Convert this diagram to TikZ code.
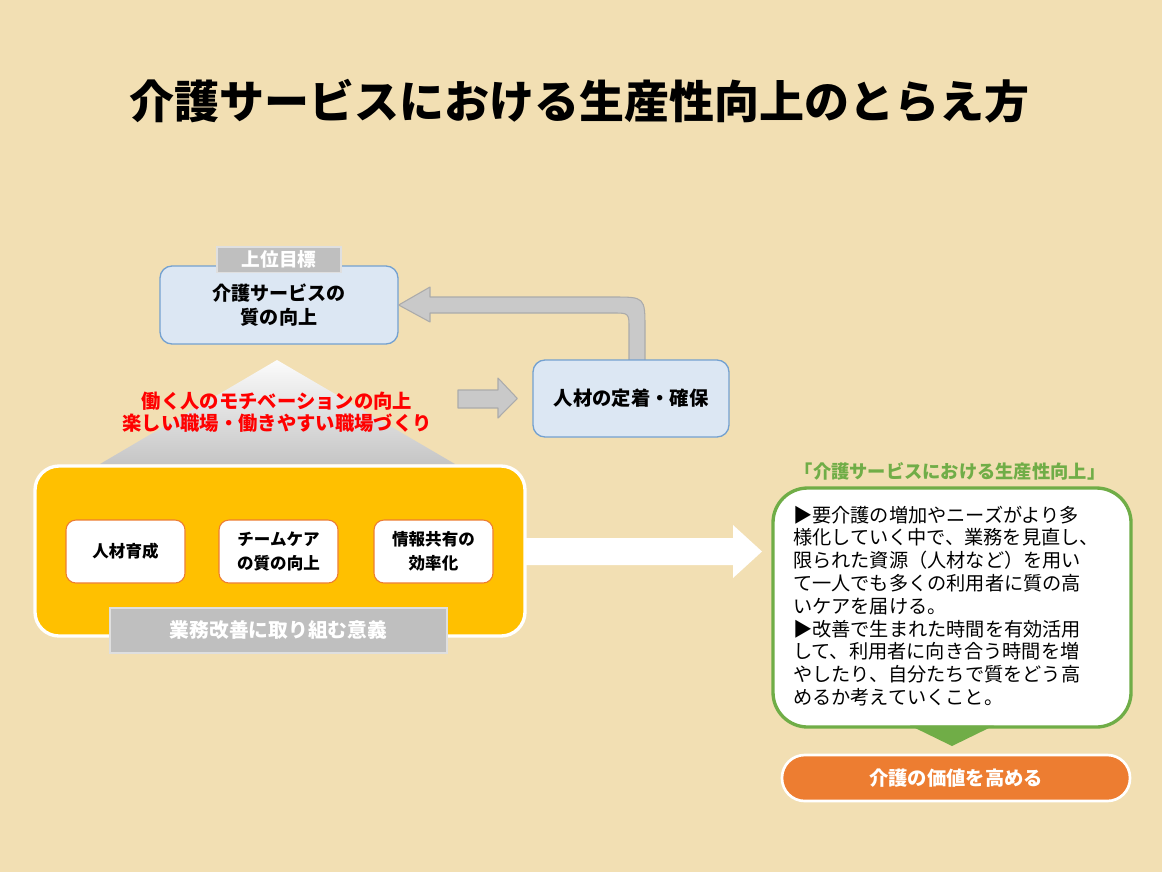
\documentclass[tikz,border=0pt]{standalone}
\usepackage{fontspec}
\setmainfont{Noto Sans CJK JP}
\usetikzlibrary{calc}
\definecolor{bg}{HTML}{F2DFB3}
\definecolor{bluefill}{HTML}{DCE7F3}
\definecolor{bluebd}{HTML}{74A1D0}
\definecolor{arrowfill}{HTML}{C9C9C9}
\definecolor{arrowbd}{HTML}{ABABAB}
\definecolor{grayfill}{HTML}{BFBFBF}
\definecolor{orangeY}{HTML}{FFC000}
\definecolor{orangeD}{HTML}{ED7D31}
\definecolor{greenC}{HTML}{70AD47}
\definecolor{redC}{HTML}{FF0000}
\begin{document}
\begin{tikzpicture}[x=0.75pt,y=-0.75pt,
  bluebox/.style={draw=bluebd, fill=bluefill, line width=1pt, rounded corners=9pt,
    align=center, font=\fontsize{14.3}{18}\selectfont\bfseries},
  graytag/.style={draw=gray!25, fill=grayfill, line width=1pt, text=white,
    font=\fontsize{14}{16}\selectfont\bfseries, inner sep=0pt},
  smallbox/.style={draw=orangeD, fill=white, line width=0.8pt, rounded corners=7.5pt,
    minimum width=89.25pt, minimum height=47.25pt, align=center,
    font=\fontsize{12.4}{18}\selectfont\bfseries},
  blockarrow/.style={draw=arrowbd, fill=arrowfill, line width=0.8pt, line join=round}
]
\fill[bg] (0,0) rectangle (1162,872);
\useasboundingbox (0,0) rectangle (1162,872);

% title
\node[font=\fontsize{33.75}{40}\selectfont\bfseries] (title) at (579,101)
  {介護サービスにおける生産性向上のとらえ方};

% pyramid with motivation text
\shade[top color=gray!3, bottom color=gray!45] (277,360) -- (455,464) -- (100,464) -- cycle;
\node[align=center, text=redC, font=\fontsize{14.5}{16.2}\selectfont\bfseries] (motiv) at (277,412)
  {働く人のモチベーションの向上\\楽しい職場・働きやすい職場づくり};

% upper goal
\node[bluebox, minimum width=178.5pt, minimum height=58.5pt] (goal) at (279,305)
  {介護サービスの\\質の向上};
\node[graytag, minimum width=93pt, minimum height=19pt] (goallbl) at (279,259.5) {上位目標};

% return arrow (staff -> goal)
\draw[blockarrow] (goal.east) -- (430,287) -- (430,297) -- (613,297)
  .. controls (645,297) .. (645,329) -- (645,361) -- (629,361) -- (629,329)
  .. controls (629,313) .. (613,313) -- (430,313) -- (430,322) -- cycle;

% staff box
\node[bluebox, minimum width=147pt, minimum height=57.75pt,
  font=\fontsize{14.5}{18}\selectfont\bfseries] (staff) at (631,398.5) {人材の定着・確保};

% small arrow (motivation -> staff)
\coordinate (tipA) at ($(staff.west)+(-15,0)$);
\draw[blockarrow] (458,390) -- (498,390) -- (498,378) -- (tipA) -- (498,418) -- (498,408) -- (458,408) -- cycle;

% white arrow to right box
\fill[white] (520,538) -- (733,538) -- (733,525) -- (762,551.5) -- (733,578) -- (733,565) -- (520,565) -- cycle;

% core orange box
\node[draw=white, line width=2.5pt, fill=orangeY, rounded corners=18pt,
  minimum width=367.5pt, minimum height=127.5pt] (core) at (280,551) {};
\node[smallbox] (b1) at (125.5,551.5) {人材育成};
\node[smallbox] (b2) at (278.5,551.5) {チームケア\\の質の向上};
\node[smallbox] (b3) at (433.5,551.5) {情報共有の\\効率化};
\node[draw=gray!25, fill=grayfill, line width=1pt, text=white,
  minimum width=252.75pt, minimum height=33.75pt,
  font=\fontsize{14.8}{16}\selectfont\bfseries] (meaning) at (278.5,630.5) {業務改善に取り組む意義};

% right side
\node[text=greenC, font=\fontsize{13.7}{16}\selectfont\bfseries] (cap) at (950,471)
  {「介護サービスにおける生産性向上」};
\node[draw=greenC, line width=2.5pt, fill=white, rounded corners=26pt,
  minimum width=268.5pt, minimum height=179.25pt] (gbox) at (952,607.5) {};
\fill[greenC] (910,725.5) -- (994,725.5) -- (952,746) -- cycle;
\node[align=left, font=\fontsize{14.4}{17.1}\selectfont, inner sep=0pt] (gtext) at (946,606)
  {▶要介護の増加やニーズがより多\\
   様化していく中で、業務を見直し、\\
   限られた資源（人材など）を用い\\
   て一人でも多くの利用者に質の高\\
   いケアを届ける。\\
   ▶改善で生まれた時間を有効活用\\
   して、利用者に向き合う時間を増\\
   やしたり、自分たちで質をどう高\\
   めるか考えていくこと。};
\node[draw=white, line width=2pt, fill=orangeD, rounded corners=17pt,
  minimum width=261pt, minimum height=34.5pt, text=white,
  font=\fontsize{14.5}{16}\selectfont\bfseries] (value) at (956,778) {介護の価値を高める};
\end{tikzpicture}
\end{document}
